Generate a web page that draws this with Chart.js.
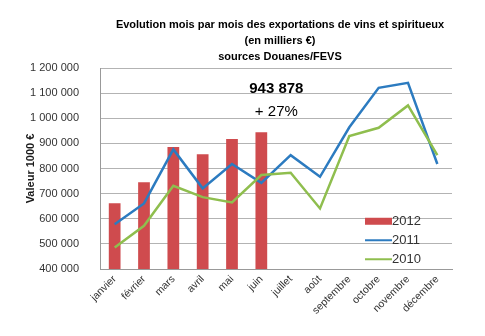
<!DOCTYPE html>
<html>
<head>
<meta charset="utf-8">
<script src="https://cdn.jsdelivr.net/npm/chart.js@4"></script>
<style>
  html, body { margin: 0; padding: 0; background: #fff; }
  #wrap { width: 485px; height: 336px; position: relative; }
</style>
</head>
<body>
<div id="wrap"><canvas id="chart"></canvas></div>
<script>
// données (milliers €)
const mois = ['janvier', 'février', 'mars', 'avril', 'mai', 'juin', 'juillet', 'août', 'septembre', 'octobre', 'novembre', 'décembre'];
const valeurs2012 = [662000, 745000, 886000, 857000, 917000, 943878, null, null, null, null, null, null];
const valeurs2011 = [578000, 661000, 876000, 721000, 818000, 743000, 853000, 767000, 964000, 1121000, 1141000, 818000];
const valeurs2010 = [486000, 572000, 731000, 686000, 665000, 774000, 783000, 641000, 929000, 962000, 1051000, 853000];
const titreLignes = ['Evolution mois par mois des exportations de vins et spiritueux', '(en milliers €)', 'sources Douanes/FEVS'];
const annotation = ['943 878', '+ 27%'];

const FONT = '"Liberation Sans", Arial, sans-serif';

// Titre, titre de l'axe, annotation et légende dessinés à la main
const extrasPlugin = {
  id: 'extras',
  afterDraw(chart) {
    const ctx = chart.ctx;
    const area = chart.chartArea;
    const x = chart.scales.x, y = chart.scales.y;

    // titre (centré un peu à droite de la zone de tracé, comme Excel)
    ctx.save();
    ctx.font = 'bold 11px ' + FONT;
    ctx.fillStyle = '#000';
    ctx.textAlign = 'center';
    ctx.textBaseline = 'middle';
    const tx = (area.left + area.right) / 2 + 4;
    titreLignes.forEach((t, i) => ctx.fillText(t, tx, 25 + i * 16.2));
    ctx.restore();

    // titre axe Y
    ctx.save();
    ctx.translate(31, (area.top + area.bottom) / 2);
    ctx.rotate(-Math.PI / 2);
    ctx.font = 'bold 11px ' + FONT;
    ctx.fillStyle = '#1a1a1a';
    ctx.textAlign = 'center';
    ctx.textBaseline = 'middle';
    ctx.fillText('Valeur 1000 €', 0, 0);
    ctx.restore();

    // annotation juin
    ctx.save();
    const ax = x.getPixelForValue(5) + 15;
    ctx.textAlign = 'center';
    ctx.textBaseline = 'middle';
    ctx.fillStyle = '#000';
    ctx.font = 'bold 15px ' + FONT;
    ctx.fillText(annotation[0], ax, y.getPixelForValue(1115000));
    ctx.font = '15px ' + FONT;
    ctx.fillText(annotation[1], ax, y.getPixelForValue(1025000));
    ctx.restore();

    // légende dans la zone du graphique
    ctx.save();
    const lx = area.right - 87;
    let ly = y.getPixelForValue(590000);
    ctx.font = '13px ' + FONT;
    ctx.textBaseline = 'middle';
    chart.data.datasets.forEach(ds => {
      if (ds.type === 'bar') {
        ctx.fillStyle = ds.backgroundColor;
        ctx.fillRect(lx, ly - 3.5, 27, 7);
      } else {
        ctx.strokeStyle = ds.borderColor;
        ctx.lineWidth = 2;
        ctx.beginPath();
        ctx.moveTo(lx, ly);
        ctx.lineTo(lx + 27, ly);
        ctx.stroke();
      }
      ctx.fillStyle = '#333';
      ctx.fillText(ds.label, lx + 27, ly);
      ly += 19;
    });
    ctx.restore();
  }
};

new Chart(document.getElementById('chart'), {
  data: {
    labels: mois,
    datasets: [
      {
        type: 'bar',
        label: '2012',
        data: valeurs2012,
        backgroundColor: '#CF4B4E',
        categoryPercentage: 1,
        barPercentage: 0.4,
        order: 3
      },
      {
        type: 'line',
        label: '2011',
        data: valeurs2011,
        borderColor: '#2C7BC0',
        borderWidth: 2.5,
        pointRadius: 0,
        tension: 0,
        fill: false,
        order: 2
      },
      {
        type: 'line',
        label: '2010',
        data: valeurs2010,
        borderColor: '#8FBE4E',
        borderWidth: 2.5,
        pointRadius: 0,
        tension: 0,
        fill: false,
        order: 1
      }
    ]
  },
  options: {
    responsive: true,
    maintainAspectRatio: false,
    animation: false,
    layout: { padding: { top: 68, right: 33, left: 0, bottom: 0 } },
    plugins: {
      legend: { display: false },
      tooltip: { enabled: false },
      title: { display: false }
    },
    scales: {
      x: {
        offset: true,
        grid: { display: false, drawTicks: false },
        border: { color: '#999' },
        ticks: {
          autoSkip: false,
          maxRotation: 45,
          minRotation: 45,
          padding: 4,
          color: '#333',
          font: { family: FONT, size: 10.5 }
        },
        afterFit(scale) { scale.height = 67; }
      },
      y: {
        min: 400000,
        max: 1200000,
        grid: { color: '#B3B3B3', drawTicks: false },
        border: { color: '#999' },
        ticks: {
          stepSize: 100000,
          padding: 21,
          color: '#333',
          font: { family: FONT, size: 11 },
          callback: v => v.toLocaleString('fr-FR').replace(/\s/g, ' ')
        },
        afterFit(scale) { scale.width = 100; }
      }
    }
  },
  plugins: [extrasPlugin]
});
</script>
</body>
</html>
